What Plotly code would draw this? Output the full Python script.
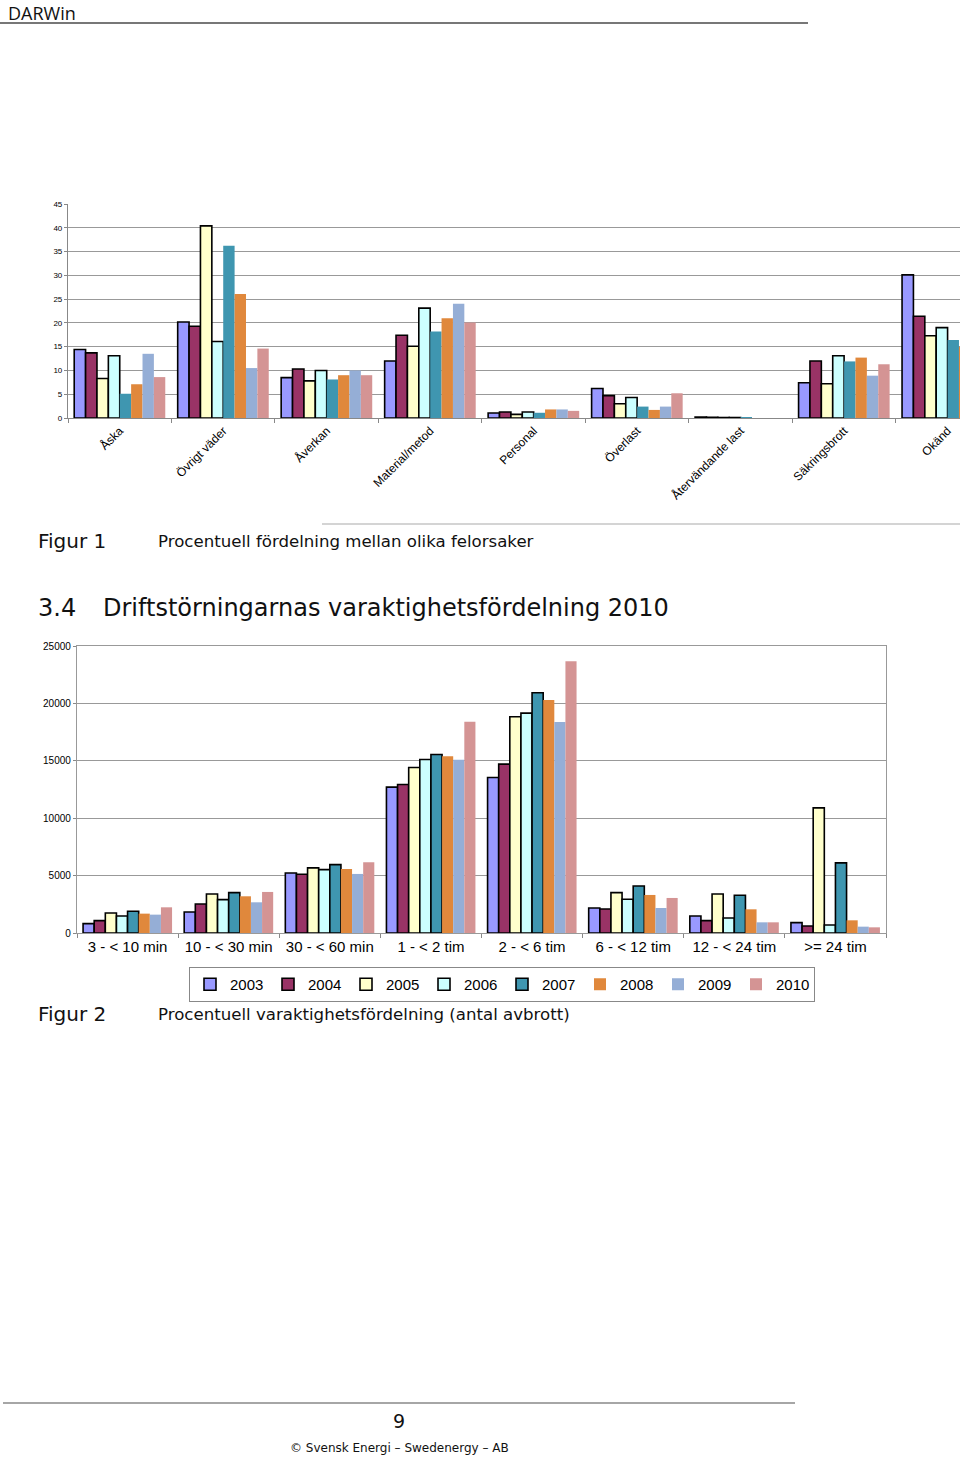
import plotly.graph_objects as go

# figur 1: procentuell fordelning mellan olika felorsaker
orsaker = ["Åska", "Övrigt väder", "Åverkan", "Material/metod", "Personal",
           "Överlast", "Återvändande last", "Säkringsbrott", "Okänd"]
ar = ["2003", "2004", "2005", "2006", "2007", "2008", "2009", "2010"]

orsak_2003 = [14.4, 20.2, 8.5, 12.0, 1.05, 6.2, 0.2, 7.4, 30.1]
orsak_2004 = [13.7, 19.3, 10.3, 17.4, 1.26, 4.7, 0.15, 12.0, 21.4]
orsak_2005 = [8.3, 40.4, 7.8, 15.1, 0.77, 3.0, 0.1, 7.2, 17.3]
orsak_2006 = [13.1, 16.1, 10.0, 23.1, 1.26, 4.3, 0.1, 13.1, 19.0]
orsak_2007 = [5.1, 36.2, 8.1, 18.2, 1.1, 2.4, 0.05, 11.9, 16.4]
orsak_2008 = [7.1, 26.1, 9.0, 21.0, 1.8, 1.7, 0.0, 12.7, 15.0]
orsak_2009 = [13.5, 10.5, 10.0, 24.0, 1.8, 2.4, 0.0, 8.9, 14.0]
orsak_2010 = [8.6, 14.6, 9.0, 20.1, 1.5, 5.2, 0.0, 11.3, 17.0]

# figur 2: varaktighetsfordelning (antal avbrott)
varaktighet = ["3 - < 10 min", "10 - < 30 min", "30 - < 60 min", "1 - < 2 tim",
               "2 - < 6 tim", "6 - < 12 tim", "12 - < 24 tim", ">= 24 tim"]
avbrott_2003 = [814, 1831, 5233, 12703, 13547, 2180, 1483, 901]
avbrott_2004 = [1076, 2529, 5116, 12936, 14709, 2093, 1076, 610]
avbrott_2005 = [1744, 3401, 5669, 14419, 18837, 3517, 3401, 10901]
avbrott_2006 = [1483, 2907, 5523, 15116, 19157, 2936, 1308, 698]
avbrott_2007 = [1890, 3517, 5959, 15552, 20930, 4099, 3285, 6105]
avbrott_2008 = [1686, 3198, 5581, 15407, 20291, 3314, 2064, 1105]
avbrott_2009 = [1599, 2674, 5145, 15087, 18372, 2180, 930, 552]
avbrott_2010 = [2238, 3576, 6163, 18401, 23663, 3052, 930, 494]

farger = ["#9999FF", "#993366", "#FFFFCC", "#CCFFFF", "#3F96B0", "#E0883C", "#95AED6", "#D49494"]

W, H = 960, 1457
def px(x):
    return x / W
def py(y):
    return 1 - y / H

fig = go.Figure()

orsak_data = [orsak_2003, orsak_2004, orsak_2005, orsak_2006,
               orsak_2007, orsak_2008, orsak_2009, orsak_2010]
for i, vals in enumerate(orsak_data):
    fig.add_trace(go.Bar(x=orsaker, y=vals, name=ar[i], marker_color=farger[i],
                         marker_line_color="black", marker_line_width=1.6 if i < 4 else 0,
                         showlegend=False, xaxis="x", yaxis="y"))

avbrott_data = [avbrott_2003, avbrott_2004, avbrott_2005, avbrott_2006,
                avbrott_2007, avbrott_2008, avbrott_2009, avbrott_2010]
for i, vals in enumerate(avbrott_data):
    fig.add_trace(go.Bar(x=varaktighet, y=vals, name=ar[i], marker_color=farger[i],
                         marker_line_color="black", marker_line_width=1.6 if i < 5 else 0,
                         xaxis="x2", yaxis="y2"))

# top chart runs off the right side of the page
fig.update_layout(
    width=W, height=H,
    margin=dict(l=0, r=0, t=0, b=0, autoexpand=False),
    paper_bgcolor="white", plot_bgcolor="white",
    barmode="group", bargap=0.12, bargroupgap=0,
    font=dict(family="Liberation Sans, Arial", color="black"),
    xaxis=dict(domain=[px(68), 1.0], anchor="y", range=[-0.5, 8.12],
               tickangle=-45, tickfont=dict(size=12), showline=True,
               linecolor="#888", linewidth=1.2, ticks="outside", tickson="boundaries",
               ticklen=4, tickcolor="#888"),
    yaxis=dict(domain=[py(418), py(204)], anchor="x", range=[0, 45], dtick=5,
               tickfont=dict(size=8), showgrid=True, gridcolor="#999", gridwidth=1.3,
               showline=True, linecolor="#888", linewidth=1.2, ticks="outside",
               ticklen=3, tickcolor="#888", zeroline=False),
    xaxis2=dict(domain=[px(77), px(886)], anchor="y2", tickfont=dict(size=15),
                tickangle=0, showline=True, mirror=True, linecolor="#999", linewidth=1.3,
                ticks="outside", tickson="boundaries", ticklen=4, tickcolor="#888"),
    yaxis2=dict(domain=[py(933), py(646)], anchor="x2", range=[0, 25000], dtick=5000,
                tickformat="d", tickfont=dict(size=10), showgrid=True, gridcolor="#999",
                gridwidth=1.3, showline=True, mirror=True, linecolor="#999", linewidth=1.3,
                ticks="outside", ticklen=3, tickcolor="#888", zeroline=False),
    legend=dict(orientation="h", x=px(502), y=py(967), xanchor="center", yanchor="top",
                bordercolor="#888", borderwidth=1, font=dict(size=15),
                itemwidth=30, entrywidth=33, tracegroupgap=0),
)

doc = "DejaVu Sans"
texter = [
    ("Figur 1", 36, 541, 20, doc),
    ("Procentuell fördelning mellan olika felorsaker", 156, 541, 16.6, doc),
    ("3.4", 36, 608, 24, doc),
    ("Driftstörningarnas varaktighetsfördelning 2010", 101, 608, 24, doc),
    ("Figur 2", 36, 1014, 20, doc),
    ("Procentuell varaktighetsfördelning (antal avbrott)", 156, 1014, 16.6, doc),
]
for txt, x, y, size, fam in texter:
    fig.add_annotation(text=txt, x=px(x), y=py(y), xref="paper", yref="paper",
                       xanchor="left", yanchor="middle", showarrow=False,
                       font=dict(size=size, family=fam, color="#111"))

# page header and footer
fig.add_annotation(text="DARWin", x=px(7), y=1, xref="paper", yref="paper",
                   xanchor="left", yanchor="top", borderpad=0, showarrow=False,
                   font=dict(size=18, family="Open Sans", color="#111"))
fig.add_annotation(text="9", x=px(399), y=py(1434), xref="paper", yref="paper",
                   showarrow=False, font=dict(size=19, family=doc, color="#111"))
fig.add_annotation(text="© Svensk Energi – Swedenergy – AB", x=px(399), y=0,
                   xref="paper", yref="paper", yanchor="bottom", showarrow=False,
                   font=dict(size=12, family=doc, color="#111"))

linjer = [(0, 808, 23, "#777", 2), (322, 960, 524, "#aaa", 1.2), (3, 795, 1403, "#888", 1.5)]
for x0, x1, y, col, w in linjer:
    fig.add_shape(type="line", xref="paper", yref="paper", x0=px(x0), x1=px(x1),
                  y0=py(y), y1=py(y), line=dict(color=col, width=w))

# page without body margin or scrollbars, so the figure fills the window exactly
js = ("document.body.style.margin='0';"
      "document.body.style.overflow='hidden';"
      "document.documentElement.style.overflow='hidden';")
fig.write_html("out.html", post_script=js, config={"displayModeBar": False})
